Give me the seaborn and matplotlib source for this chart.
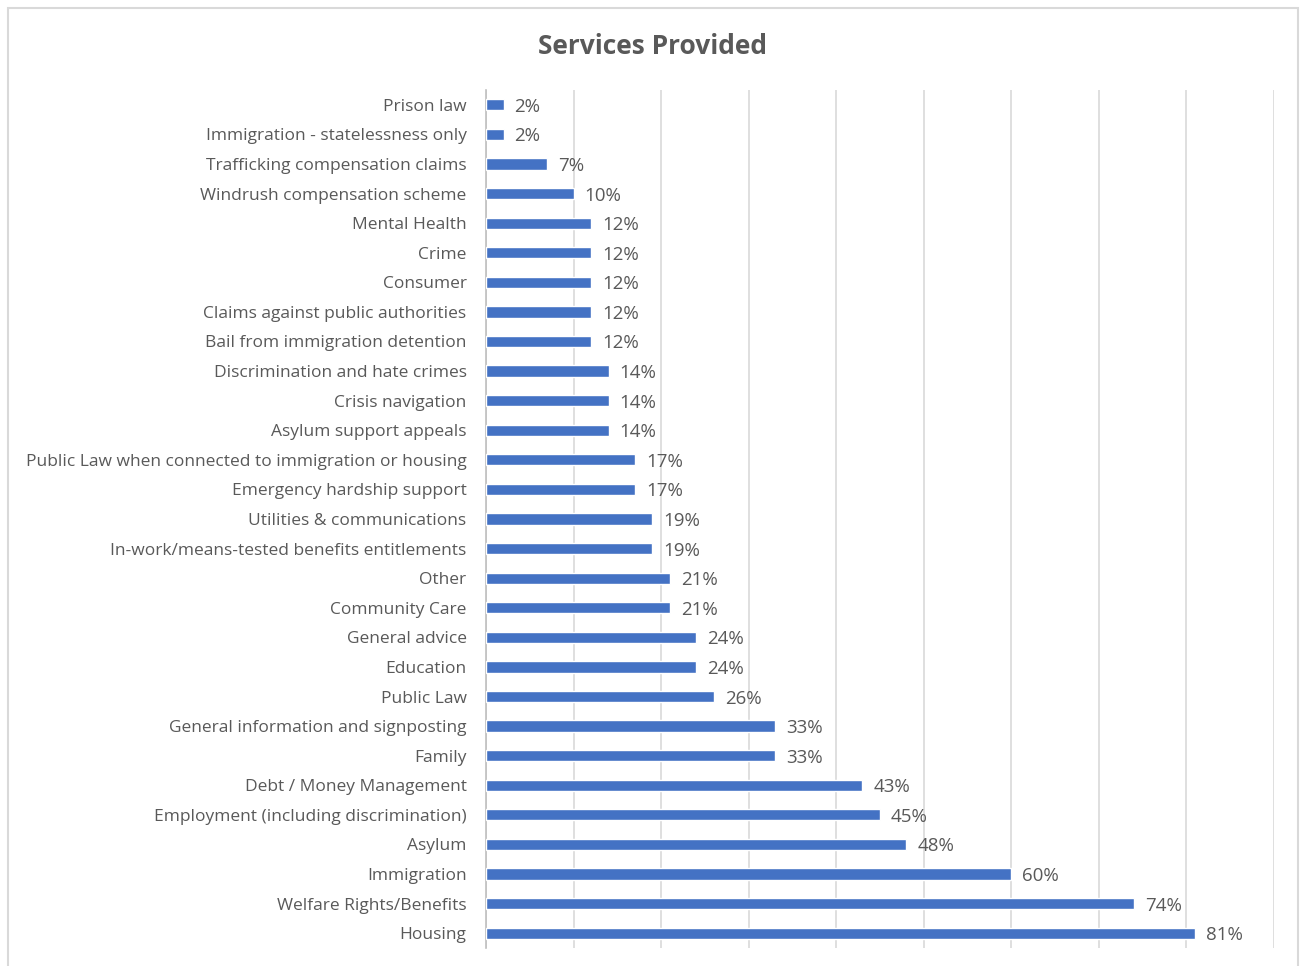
import matplotlib
matplotlib.use("Agg")
import matplotlib.pyplot as plt
from matplotlib.patches import Rectangle
import seaborn as sns
import pandas as pd

services = [
    "Prison law",
    "Immigration - statelessness only",
    "Trafficking compensation claims",
    "Windrush compensation scheme",
    "Mental Health",
    "Crime",
    "Consumer",
    "Claims against public authorities",
    "Bail from immigration detention",
    "Discrimination and hate crimes",
    "Crisis navigation",
    "Asylum support appeals",
    "Public Law when connected to immigration or housing",
    "Emergency hardship support",
    "Utilities & communications",
    "In-work/means-tested benefits entitlements",
    "Other",
    "Community Care",
    "General advice",
    "Education",
    "Public Law",
    "General information and signposting",
    "Family",
    "Debt / Money Management",
    "Employment (including discrimination)",
    "Asylum",
    "Immigration",
    "Welfare Rights/Benefits",
    "Housing",
]
percent = [2, 2, 7, 10, 12, 12, 12, 12, 12, 14, 14, 14, 17, 17, 19, 19,
           21, 21, 24, 24, 26, 33, 33, 43, 45, 48, 60, 74, 81]

df = pd.DataFrame({"service": services, "percent": percent})

sns.set_theme(style="white")
plt.rcParams["font.family"] = ["Open Sans", "DejaVu Sans"]

TEXT = "#595959"
BAR = "#4472C4"

fig = plt.figure(figsize=(13.04, 9.66), dpi=100)
ax = fig.add_axes([486 / 1304, 1 - 948 / 966, (1274 - 486) / 1304, (948 - 90) / 966])

sns.barplot(data=df, x="percent", y="service", order=services, orient="h",
            color=BAR, width=0.38, saturation=1, ax=ax, zorder=3)

ax.set_xlim(0, 90)
ax.set_xticks(range(0, 91, 10))
ax.set_xticklabels([])
ax.xaxis.grid(True, color="#d9d9d9", linewidth=1.2, zorder=0)
ax.set_axisbelow(True)
ax.tick_params(axis="x", length=0)
ax.tick_params(axis="y", length=0, pad=14, labelsize=12.5, labelcolor=TEXT)
ax.set_xlabel("")
ax.set_ylabel("")
for side in ("top", "right", "bottom"):
    ax.spines[side].set_visible(False)
ax.spines["left"].set_color("#bfbfbf")
ax.spines["left"].set_linewidth(1.2)

for i, v in enumerate(percent):
    ax.annotate(f"{v}%", xy=(v, i), xytext=(8, 0), textcoords="offset points",
                va="center_baseline", ha="left", fontsize=13.5, color=TEXT)

fig.text(652 / 1304, 1 - 46 / 966, "Services Provided", ha="center", va="center",
         fontsize=19, fontweight="bold", color=TEXT)

# Chart frame
fig.add_artist(Rectangle((7.5 / 1304, -0.05), (1298 - 7.5) / 1304, 1.05 - 8.5 / 966,
                         transform=fig.transFigure, fill=False,
                         edgecolor="#d9d9d9", linewidth=1.5))

fig.savefig("out.png", dpi=100, facecolor="white")
